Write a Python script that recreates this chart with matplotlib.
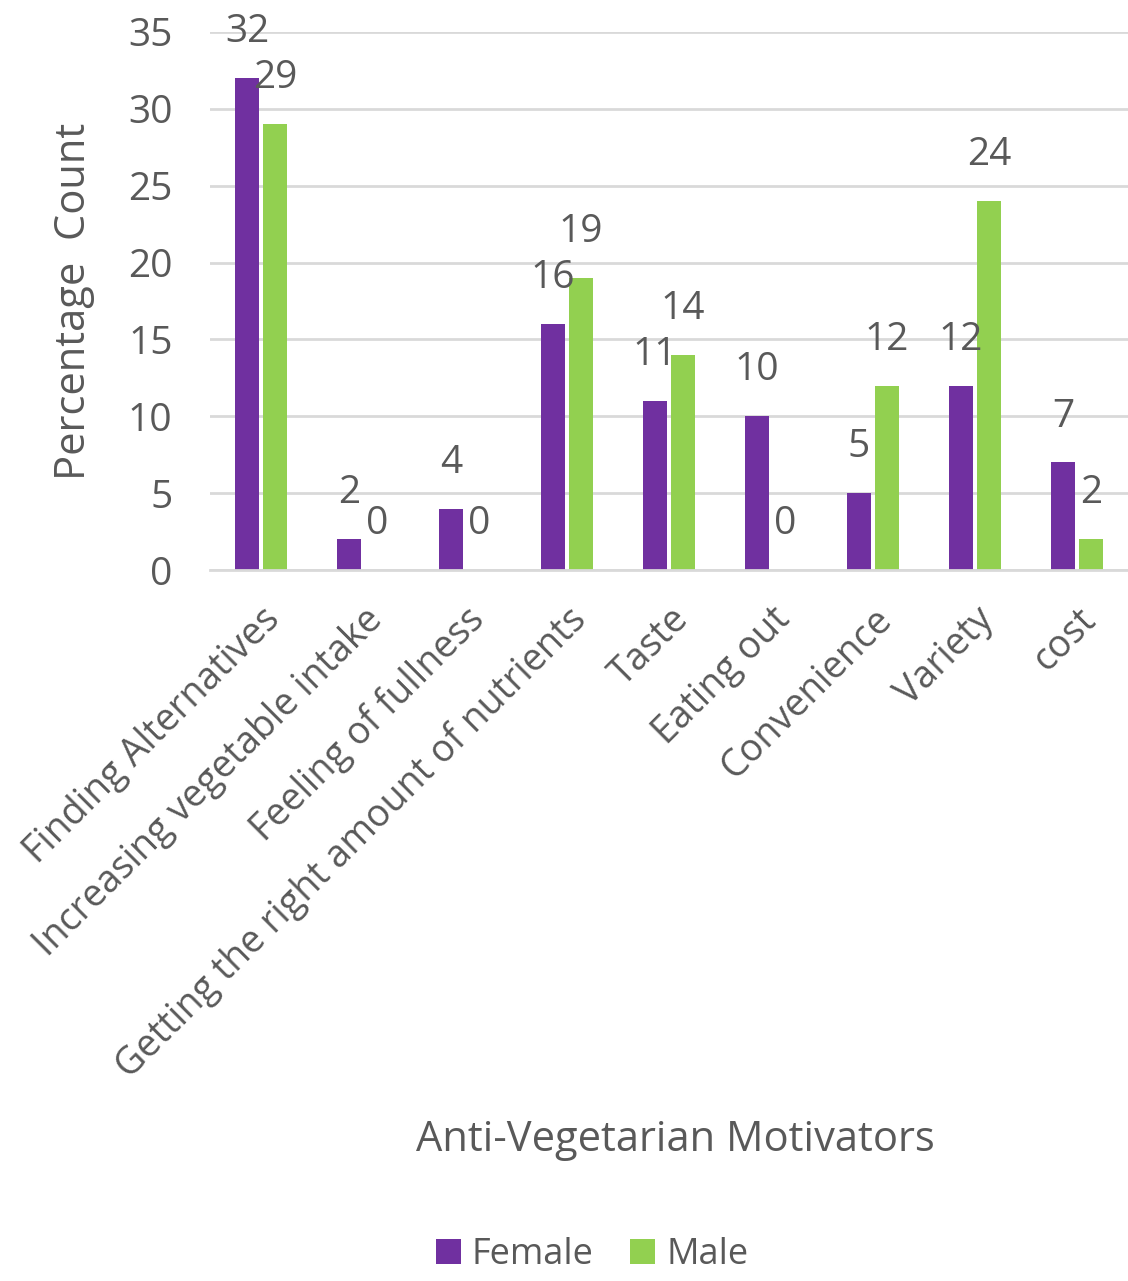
import matplotlib
matplotlib.use("Agg")
import matplotlib.pyplot as plt
import numpy as np

plt.rcParams['font.family'] = ['Open Sans', 'DejaVu Sans']

categories = ["Finding Alternatives", "Increasing vegetable intake", "Feeling of fullness",
              "Getting the right amount of nutrients", "Taste", "Eating out",
              "Convenience", "Variety", "cost"]
female = [32, 2, 4, 16, 11, 10, 5, 12, 7]
male = [29, 0, 0, 19, 14, 0, 12, 24, 2]
yticks = [0, 5, 10, 15, 20, 25, 30, 35]

purple = "#7030A0"
green = "#92D050"
gray = "#595959"

fig = plt.figure(figsize=(11.28, 12.81), dpi=100)
ax = fig.add_axes([210/1128, 1 - 570/1281, 918/1128, 538/1281])

x = np.arange(len(categories))
w = 0.235
b1 = ax.bar(x - w/2 - 0.02, female, w, color=purple, label="Female")
b2 = ax.bar(x + w/2 + 0.02, male, w, color=green, label="Male")

for bars, vals in ((b1, female), (b2, male)):
    for r, v in zip(bars, vals):
        ax.annotate(str(v), (r.get_x() + r.get_width()/2, v), xytext=(0, 33),
                    textcoords="offset points", ha="center", va="center",
                    fontsize=28, color=gray)

ax.set_xlim(-0.5, len(categories) - 0.5)
ax.set_ylim(0, 35)
ax.set_yticks(yticks)
ax.yaxis.grid(True, color="#d9d9d9", linewidth=2)
ax.set_axisbelow(True)
for s in ["top", "right", "left"]:
    ax.spines[s].set_visible(False)
ax.spines["bottom"].set_color("#d9d9d9")
ax.spines["bottom"].set_linewidth(2)
ax.tick_params(axis="y", length=0, labelsize=28, labelcolor=gray, pad=27)
ax.set_xticks(x)
ax.set_xticklabels(categories, rotation=45, ha="right", rotation_mode="anchor")
ax.tick_params(axis="x", length=0, labelsize=27, labelcolor=gray, pad=22)

ax.set_ylabel("Percentage  Count", fontsize=30, color=gray, labelpad=24)

fig.text(675/1128, 1 - 1140/1281, "Anti-Vegetarian Motivators", fontsize=30,
         color=gray, ha="center", va="center")

fig.legend(handles=[b1, b2], labels=["Female", "Male"], loc="center",
           bbox_to_anchor=(592/1128, 1 - 1255/1281), ncol=2, frameon=False,
           fontsize=26, handlelength=0.7, handleheight=0.7, columnspacing=1.0,
           handletextpad=0.3, labelcolor=gray, borderpad=0.2)

fig.savefig("out.png", dpi=100)
